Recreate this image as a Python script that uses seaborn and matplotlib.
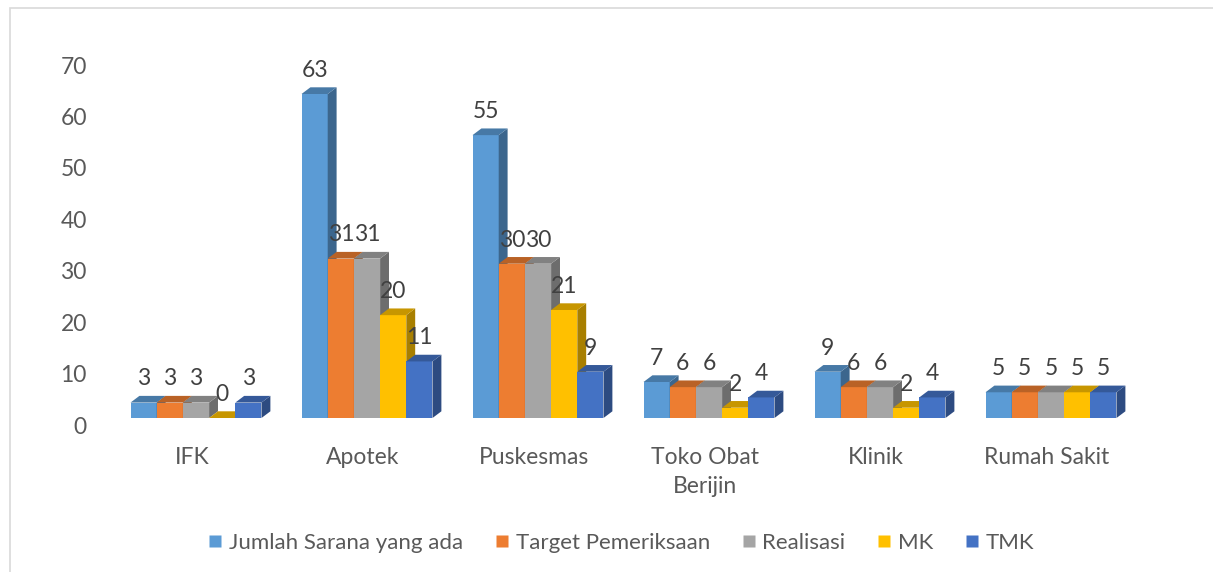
import numpy as np
import pandas as pd
import matplotlib
matplotlib.use("Agg")
import matplotlib.pyplot as plt
import matplotlib.colors as mcolors
from matplotlib.patches import Polygon, Rectangle
from matplotlib.lines import Line2D
import matplotlib.transforms as mtransforms
import seaborn as sns

# Data
categories = ["IFK", "Apotek", "Puskesmas", "Toko Obat\nBerijin", "Klinik", "Rumah Sakit"]
series = ["Jumlah Sarana yang ada", "Target Pemeriksaan", "Realisasi", "MK", "TMK"]
jumlah_sarana = [3, 63, 55, 7, 9, 5]
target_pemeriksaan = [3, 31, 30, 6, 6, 5]
realisasi = [3, 31, 30, 6, 6, 5]
mk = [0, 20, 21, 2, 2, 5]
tmk = [3, 11, 9, 4, 4, 5]
colors = ["#5B9BD5", "#ED7D31", "#A5A5A5", "#FFC000", "#4472C4"]

values = [jumlah_sarana, target_pemeriksaan, realisasi, mk, tmk]
df = pd.DataFrame({
    "kategori": np.repeat([categories], len(series), axis=0).ravel(),
    "seri": np.repeat(series, len(categories)),
    "nilai": np.concatenate(values),
})

sns.set_theme(style="white")
plt.rcParams["font.family"] = ["Lato", "DejaVu Sans"]
FS = 16.5

fig = plt.figure(figsize=(12.13, 5.72), dpi=100)
ax = fig.add_axes([110.5 / 1213, (572 - 418) / 572, 1026 / 1213, 360 / 572])

sns.barplot(data=df, x="kategori", y="nilai", hue="seri", order=categories,
            hue_order=series, palette=colors, saturation=1, width=0.766,
            dodge=True, errorbar=None, legend=False, ax=ax, linewidth=0)

ax.set_ylim(0, 70)
ax.set_xlim(-0.5, len(categories) - 0.5)

# Depth of the pseudo-3D faces (data units)
dx = 0.052
dy = 1.3


def shade(c, f):
    r, g, b = mcolors.to_rgb(c)
    return (r * f, g * f, b * f)


for h, cont in enumerate(ax.containers):
    base_z = 2 + h * 0.1
    col = colors[h]
    for bar, val in zip(cont.patches, values[h]):
        x0 = bar.get_x()
        x1 = x0 + bar.get_width()
        top = bar.get_height()
        bar.set_zorder(base_z)
        bar.set_clip_on(False)
        side = Polygon([(x1, 0), (x1 + dx, dy), (x1 + dx, top + dy), (x1, top)],
                       closed=True, facecolor=shade(col, 0.66), edgecolor="none",
                       zorder=base_z + 0.05, clip_on=False)
        topf = Polygon([(x0, top), (x1, top), (x1 + dx, top + dy), (x0 + dx, top + dy)],
                       closed=True, facecolor=shade(col, 0.78), edgecolor="none",
                       zorder=base_z + 0.06, clip_on=False)
        ax.add_patch(side)
        ax.add_patch(topf)
        ax.annotate(f"{val:g}", xy=((x0 + x1) / 2, top), xytext=(0, 17.0),
                    textcoords="offset points", ha="center", va="center",
                    fontsize=FS, color="#404040", zorder=5, annotation_clip=False)

# Axes styling
sns.despine(ax=ax, left=True, bottom=True, top=True, right=True)
ax.set_xlabel("")
ax.set_ylabel("")
ax.set_yticks(np.arange(0, 71, 10))
ax.tick_params(axis="y", length=0, pad=17, labelsize=FS, labelcolor="#595959")
ax.tick_params(axis="x", length=0, pad=21, labelsize=FS, labelcolor="#595959")
ax.grid(False)
for lbl in ax.get_yticklabels():
    lbl.set_transform(lbl.get_transform() + mtransforms.ScaledTranslation(0, -7 / 100, fig.dpi_scale_trans))
for lbl in ax.get_xticklabels():
    lbl.set_linespacing(1.45)
    lbl.set_verticalalignment("top")
    lbl.set_transform(lbl.get_transform() + mtransforms.ScaledTranslation(-4 / 100, 0, fig.dpi_scale_trans))

# Legend
handles = [Line2D([0], [0], marker="s", linestyle="none", markersize=8.5,
                  markerfacecolor=c, markeredgecolor="none") for c in colors]
fig.legend(handles, series, loc="center", bbox_to_anchor=(622 / 1213, 1 - 543 / 572),
           ncol=5, frameon=False, fontsize=16, labelcolor="#595959",
           handlelength=0.5, handletextpad=0.36, columnspacing=1.5)

# Chart border
fig.patches.append(Rectangle((10 / 1213, -0.1), 1.2, 1 - 8 / 572 + 0.1,
                             transform=fig.transFigure, fill=False,
                             edgecolor="#D9D9D9", linewidth=1.2))

fig.savefig("out.png", dpi=100)
